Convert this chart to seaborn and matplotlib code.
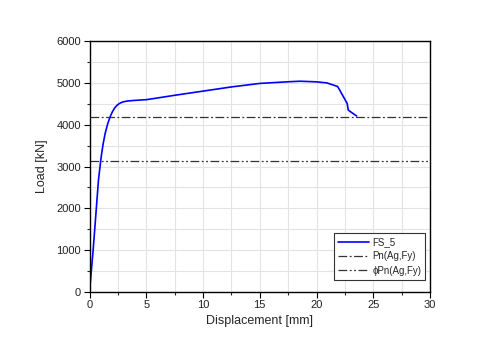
import matplotlib
matplotlib.use("Agg")
import matplotlib.pyplot as plt
import seaborn as sns
import pandas as pd
from matplotlib.ticker import MultipleLocator

disp = [0.0, 0.32, 0.59, 0.79, 1.03, 1.2, 1.38, 1.6, 1.82, 2.0, 2.2, 2.41, 2.6, 2.8, 2.99, 3.3,
        3.8, 5.05, 7.54, 10.04, 12.54, 15.03, 17.52, 18.55, 20.0, 20.9, 21.3, 21.85, 22.0,
        22.2, 22.35, 22.5, 22.7, 22.8, 23.0, 23.54]
load = [0, 1000, 1960, 2677, 3234, 3540, 3793, 4020, 4191, 4300, 4395, 4460, 4502, 4530, 4548,
        4565, 4578, 4600, 4705, 4805, 4905, 4988, 5027, 5040, 5025, 5000, 4965, 4915, 4850,
        4750, 4680, 4606, 4510, 4350, 4310, 4207]
pn = 4190
phi_pn = 3142

sns.set_style("white")
plt.rcParams['font.family'] = ['Liberation Sans', 'DejaVu Sans']

fig = plt.figure(figsize=(5, 3.51), dpi=100)
ax = fig.add_axes([0.179, 0.168, 0.681, 0.715])

df = pd.DataFrame({"Displacement": disp, "Load": load})
sns.lineplot(data=df, x="Displacement", y="Load", ax=ax, color="#0000ff", lw=1.2,
             label="FS_5", sort=False)
ax.axhline(pn, color="#333333", lw=0.9, dashes=(7, 2, 1.5, 2), label="Pn(Ag,Fy)")
ax.axhline(phi_pn, color="#333333", lw=0.9, dashes=(7, 2, 1.5, 2, 1.5, 2), label="\u03d5Pn(Ag,Fy)")

ax.set_xlim(0, 30)
ax.set_ylim(0, 6000)
ax.xaxis.set_major_locator(MultipleLocator(5))
ax.xaxis.set_minor_locator(MultipleLocator(2.5))
ax.yaxis.set_major_locator(MultipleLocator(1000))
ax.yaxis.set_minor_locator(MultipleLocator(500))
ax.grid(True, which="both", color="#e3e3e3", lw=0.8)
ax.set_axisbelow(True)
for s in ax.spines.values():
    s.set_color("black")
    s.set_linewidth(1.0)
ax.tick_params(which="major", direction="out", length=4, width=0.8, labelsize=8,
               colors="black", bottom=True, left=True, pad=2)
ax.tick_params(which="minor", direction="out", length=2.5, width=0.8, bottom=True, left=True)
for lab in ax.get_xticklabels() + ax.get_yticklabels():
    lab.set_color("#222222")
ax.set_xlabel("Displacement [mm]", fontsize=9, labelpad=3)
ax.set_ylabel("Load [kN]", fontsize=9, labelpad=6)

leg = ax.legend(loc="lower right", fontsize=7, frameon=True, fancybox=False,
                edgecolor="#333333", framealpha=1, handlelength=3.2, handletextpad=0.3,
                borderpad=0.4, labelspacing=0.45, bbox_to_anchor=(1.0, 0.03))
leg.get_frame().set_linewidth(0.8)

fig.savefig("out.png", dpi=100)
